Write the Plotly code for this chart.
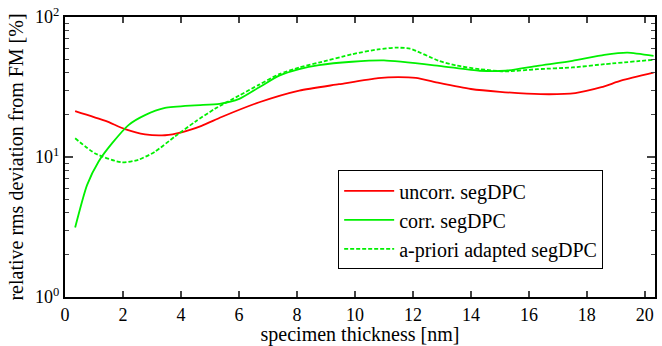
import plotly.graph_objects as go

# Data
x_uncorr = [0.35, 1.4, 2.07, 2.76, 3.45, 4.02, 4.71, 5.4, 6.7, 8.08, 9.45, 10.8, 11.5, 12.1, 12.9, 14.0, 15.0, 16.4, 17.6, 18.5, 19.2, 20.3]
y_uncorr = [21.3, 18.1, 15.8, 14.5, 14.3, 15.0, 16.7, 19.3, 24.6, 29.8, 33.1, 36.6, 37.2, 36.7, 33.8, 30.6, 29.2, 28.1, 28.6, 31.5, 35.2, 40.0]

x_corr = [0.35, 0.76, 1.16, 1.62, 2.19, 2.76, 3.45, 4.48, 5.33, 6.01, 6.70, 7.39, 8.08, 8.76, 9.9, 11.0, 12.9, 14.3, 15.2, 16.3, 17.5, 18.6, 19.4, 20.3]
y_corr = [3.14, 6.3, 9.3, 12.5, 16.9, 19.9, 22.4, 23.4, 24.0, 26.0, 31.5, 38.1, 42.4, 45.3, 47.9, 49.0, 44.8, 41.3, 41.3, 44.8, 48.6, 53.6, 55.7, 52.7]

x_apriori = [0.35, 1.04, 1.96, 2.53, 3.10, 3.79, 4.48, 5.17, 6.01, 6.70, 7.39, 8.08, 8.76, 9.9, 10.8, 11.4, 11.9, 12.9, 13.5, 14.3, 15.2, 16.3, 17.5, 18.6, 20.3]
y_apriori = [13.6, 10.6, 9.15, 9.55, 10.9, 14.0, 17.8, 22.1, 27.5, 32.9, 39.1, 43.6, 47.3, 54.2, 58.7, 60.4, 59.4, 48.6, 45.0, 42.4, 40.9, 42.4, 43.6, 46.0, 49.5]

names = ["uncorr. segDPC", "corr. segDPC", "a-priori adapted segDPC"]

x_ticks = [0, 2, 4, 6, 8, 10, 12, 14, 16, 18, 20]
y_tickvals = [1, 10, 100]
y_ticktext = ["10<sup>0</sup>", "10<sup>1</sup>", "10<sup>2</sup>"]

FONT = "Liberation Serif"

fig = go.Figure()
fig.add_trace(go.Scatter(x=x_uncorr, y=y_uncorr, mode="lines", name=names[0],
                         line=dict(color="#ff0000", width=1.8, shape="spline", smoothing=0.6)))
fig.add_trace(go.Scatter(x=x_corr, y=y_corr, mode="lines", name=names[1],
                         line=dict(color="#00f000", width=1.8, shape="spline", smoothing=0.6)))
fig.add_trace(go.Scatter(x=x_apriori, y=y_apriori, mode="lines", name=names[2],
                         line=dict(color="#00f000", width=1.8, dash="4px,2px", shape="spline", smoothing=0.6)))

fig.update_layout(
    width=662, height=346,
    margin=dict(l=65, r=5, t=14, b=49),
    paper_bgcolor="white", plot_bgcolor="white",
    font=dict(family=FONT, size=20, color="black"),
    showlegend=True,
    legend=dict(x=0.463, y=0.452, xanchor="left", yanchor="top",
                bgcolor="white", bordercolor="black", borderwidth=1,
                itemwidth=50,
                font=dict(family=FONT, size=20, color="black"), tracegroupgap=0),
)
fig.update_xaxes(
    range=[0, 20.35], tickvals=x_ticks, ticks="inside", ticklen=6, tickwidth=1.5,
    showline=True, linewidth=2, linecolor="black", mirror="allticks",
    showgrid=False, zeroline=False,
    title=dict(text="specimen thickness [nm]", standoff=0, font=dict(family=FONT, size=20, color="black")),
    tickfont=dict(family=FONT, size=18, color="black"),
)
fig.update_yaxes(
    type="log", range=[0, 2], tickvals=y_tickvals, ticktext=y_ticktext,
    ticks="inside", ticklen=8, tickwidth=1.5,
    minor=dict(ticks="inside", ticklen=4, tickwidth=1.2, dtick="D1", showgrid=False),
    showline=True, linewidth=2, linecolor="black", mirror="allticks",
    showgrid=False, zeroline=False,
    title=dict(text="relative rms deviation from FM [%]", standoff=6, font=dict(family=FONT, size=20, color="black")),
    tickfont=dict(family=FONT, size=18, color="black"),
)

fig.write_html("out.html")
